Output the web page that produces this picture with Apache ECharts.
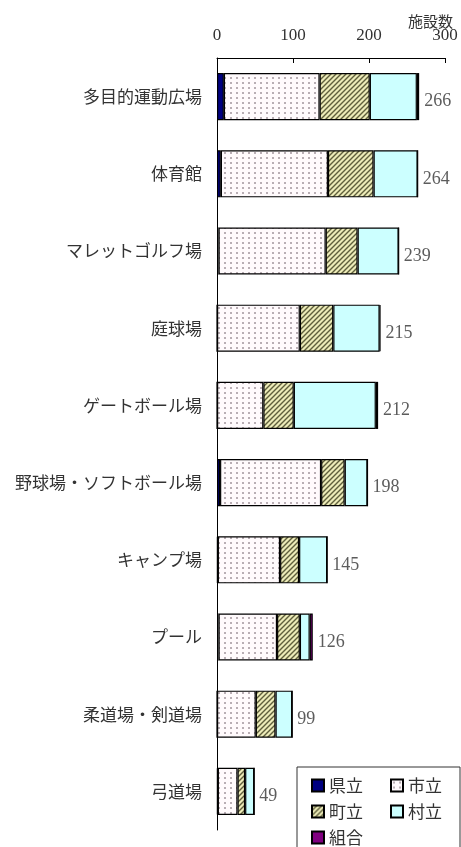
<!DOCTYPE html>
<html>
<head>
<meta charset="utf-8">
<script src="https://cdn.jsdelivr.net/npm/echarts@6/dist/echarts.min.js"></script>
<style>
html,body{margin:0;padding:0;background:#fff;}
#chart{width:461px;height:847px;}
</style>
</head>
<body>
<div id="chart"></div>
<script>
const categories = ['多目的運動広場','体育館','マレットゴルフ場','庭球場','ゲートボール場','野球場・ソフトボール場','キャンプ場','プール','柔道場・剣道場','弓道場'];
const kenritsu = [9, 5, 2, 0, 0, 4, 1, 2, 0, 1];
const shiritsu = [126, 141, 141, 109, 61, 133, 82, 77, 51, 26];
const choritsu = [66, 60, 42, 44, 40, 31, 25, 30, 26, 10];
const sonritsu = [62, 58, 54, 61, 108, 30, 37, 13, 22, 12];
const kumiai = [3, 0, 0, 1, 3, 0, 0, 4, 0, 0];
const totals = [266, 264, 239, 215, 212, 198, 145, 126, 99, 49];
const xTicks = [0, 100, 200, 300];
const unitLabel = '施設数';

function dotPattern(){
  const c = document.createElement('canvas');
  c.width = 6; c.height = 5;
  const g = c.getContext('2d');
  g.fillStyle = '#fffafc'; g.fillRect(0,0,6,5);
  g.fillStyle = '#b9aeb4'; g.fillRect(2,2,2,2);
  return {image: c, repeat: 'repeat'};
}
function hatchPattern(){
  const s = 5;
  const c = document.createElement('canvas');
  c.width = s; c.height = s;
  const g = c.getContext('2d');
  g.fillStyle = '#ecebb8'; g.fillRect(0,0,s,s);
  g.strokeStyle = '#5f5f3c'; g.lineWidth = 1.4;
  g.beginPath();
  g.moveTo(0, s); g.lineTo(s, 0);
  g.moveTo(-1, 1); g.lineTo(1, -1);
  g.moveTo(s-1, s+1); g.lineTo(s+1, s-1);
  g.stroke();
  return {image: c, repeat: 'repeat'};
}

const chart = echarts.init(document.getElementById('chart'));
const jp = 'Noto Sans CJK JP';
const serif = 'Liberation Serif';
const border = {borderColor: '#000', borderWidth: 1.2};
function barSeries(name, data, color){
  return {
    name: name, type: 'bar', stack: 'total', data: data,
    barCategoryGap: '39%',
    itemStyle: Object.assign({color: color}, border),
    emphasis: {disabled: true}
  };
}
chart.setOption({
  animation: false,
  grid: {left: 217, top: 58, width: 228, height: 772},
  xAxis: {
    type: 'value', position: 'top', min: xTicks[0], max: xTicks[xTicks.length-1], interval: 100,
    axisLine: {show: true, lineStyle: {color: '#000', width: 1}},
    axisTick: {show: true, inside: true, length: 5, lineStyle: {color: '#000'}},
    axisLabel: {fontFamily: serif, fontSize: 17, color: '#333', margin: 14},
    splitLine: {show: false}
  },
  yAxis: {
    type: 'category', data: categories, inverse: true,
    axisLine: {show: true, lineStyle: {color: '#000', width: 1}},
    axisTick: {show: false},
    axisLabel: {fontFamily: jp, fontSize: 17, color: '#333', margin: 15}
  },
  legend: {
    data: ['県立','市立','町立','村立','組合'],
    left: 297, top: 767, width: 160,
    orient: 'horizontal',
    icon: 'rect', itemWidth: 12, itemHeight: 12, itemGap: 9,
    padding: [10, 0, 12, 14],
    borderColor: '#333', borderWidth: 1, backgroundColor: '#fff',
    textStyle: {fontFamily: jp, fontSize: 17, color: '#333', width: 52, lineHeight: 14},
    selectedMode: false
  },
  graphic: [{
    type: 'text', left: 408, top: 14,
    style: {text: unitLabel, fontFamily: jp, fontSize: 15, fill: '#333'}
  }],
  series: [
    barSeries('県立', kenritsu, '#000080'),
    barSeries('市立', shiritsu, dotPattern()),
    barSeries('町立', choritsu, hatchPattern()),
    barSeries('村立', sonritsu, '#ccffff'),
    barSeries('組合', kumiai, '#800080'),
    {
      name: 'total', type: 'scatter', symbolSize: 0, silent: true,
      data: totals.map((t, i) => [t, categories[i]]),
      label: {
        show: true, position: 'right', distance: 5, offset: [0, 5],
        formatter: p => String(p.value[0]),
        fontFamily: serif, fontSize: 18, color: '#333'
      }
    }
  ]
});
</script>
</body>
</html>
